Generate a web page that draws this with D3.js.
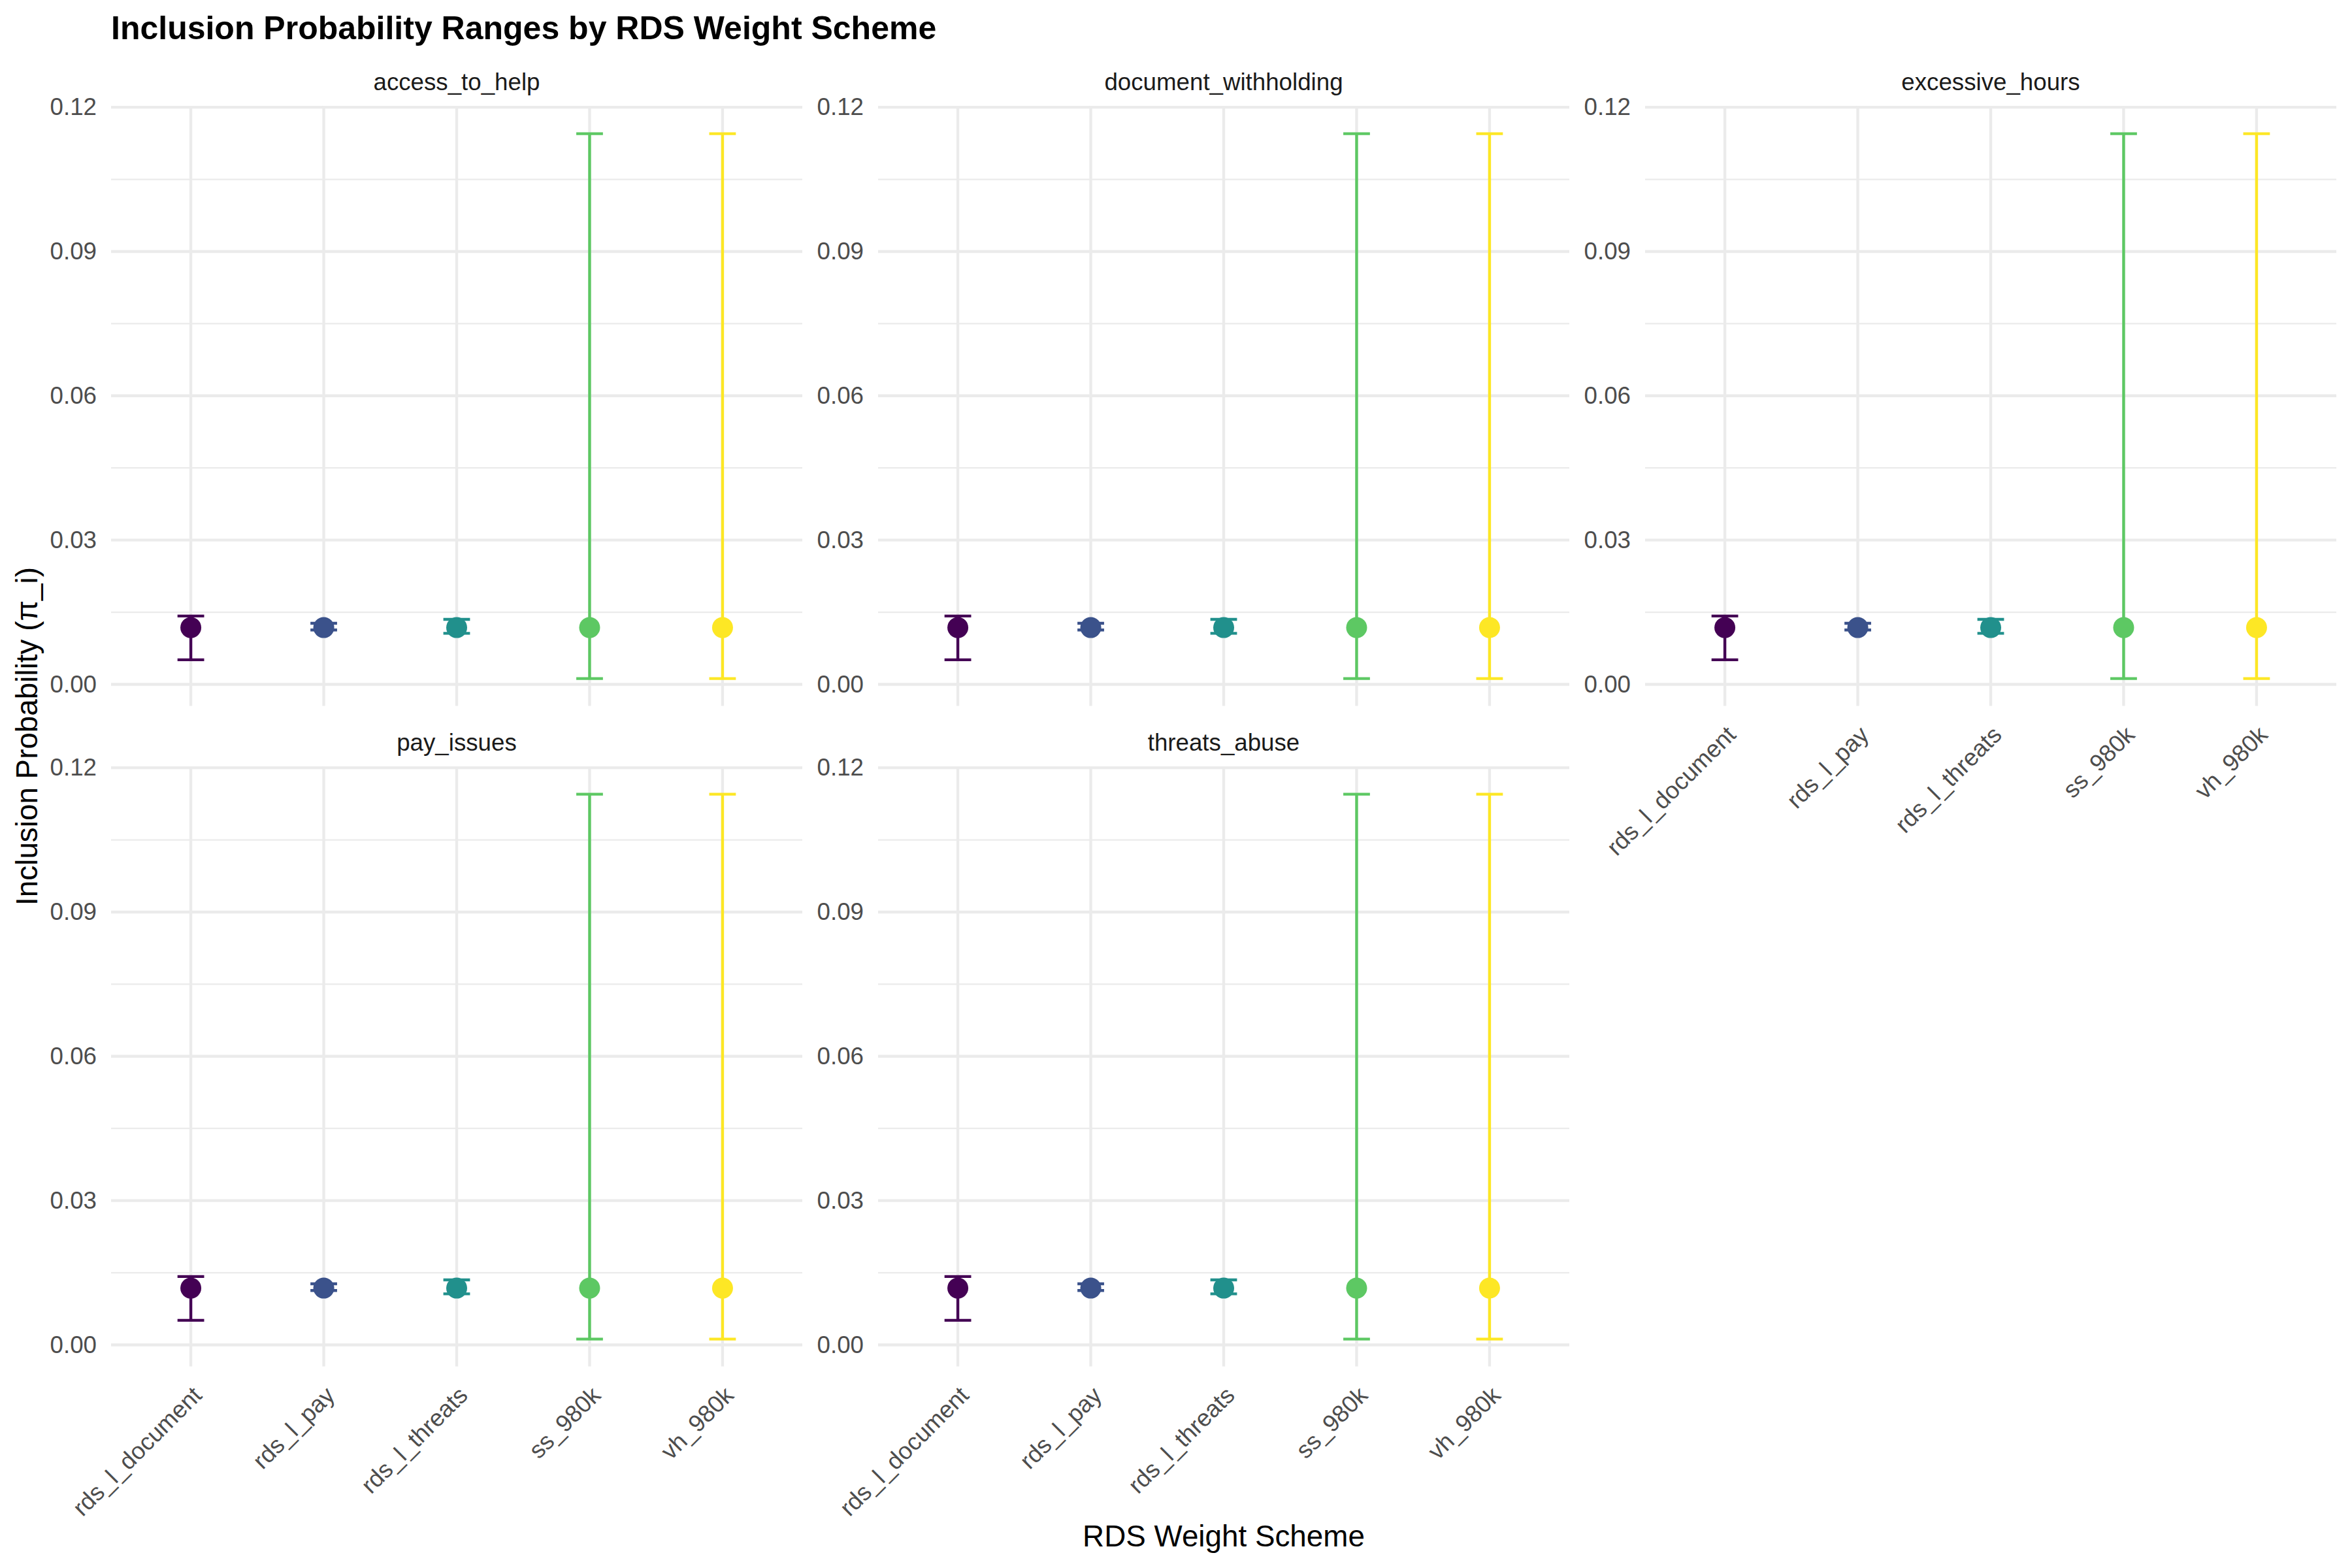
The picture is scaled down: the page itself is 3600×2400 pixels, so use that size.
<!DOCTYPE html>
<html>
<head>
<meta charset="utf-8">
<script src="https://cdn.jsdelivr.net/npm/d3@7"></script>
<style>
  html, body { margin: 0; padding: 0; background: #ffffff; }
  svg { display: block; }
  text { font-family: "Liberation Sans", Arial, Helvetica, sans-serif; }
</style>
</head>
<body>
<div id="chart"></div>
<script>
// ---------------- data ----------------
const facets = ["access_to_help", "document_withholding", "excessive_hours", "pay_issues", "threats_abuse"];
const schemes = ["rds_l_document", "rds_l_pay", "rds_l_threats", "ss_980k", "vh_980k"];
const schemeColors = ["#440154", "#3B528B", "#21908C", "#5DC863", "#FDE725"];
// inclusion probability per scheme (same in every facet)
const piMedian = [0.0118, 0.0118, 0.0118, 0.0118, 0.0118];
const piLower  = [0.0051, 0.0113, 0.0106, 0.0012, 0.0012];
const piUpper  = [0.0142, 0.0127, 0.0135, 0.1145, 0.1145];
const yTicks = [0, 0.03, 0.06, 0.09, 0.12];
const yMinorTicks = [0.015, 0.045, 0.075, 0.105];
const yDomain = [-0.00449, 0.12022];

const titleText = "Inclusion Probability Ranges by RDS Weight Scheme";
const xTitle = "RDS Weight Scheme";
const yTitle = "Inclusion Probability (\u03C0_i)";

// ---------------- layout ----------------
const W = 3600, H = 2400;
const panelW = 1058, panelH = 918;
const colLeft = [170, 1344, 2518];
const rowTop = [162.5, 1173.5];
const fsTick = 36.7, fsStrip = 36.7, fsAxisTitle = 45.8, fsTitle = 50;

const svg = d3.select("#chart").append("svg")
  .attr("width", W).attr("height", H)
  .attr("viewBox", `0 0 ${W} ${H}`);
svg.append("rect").attr("width", W).attr("height", H).attr("fill", "#ffffff");

const x = d3.scalePoint().domain(schemes).range([0, panelW]).padding(0.6);
const y = d3.scaleLinear().domain(yDomain).range([panelH, 0]);
const color = d3.scaleOrdinal().domain(schemes).range(schemeColors);

const rows = schemes.map((s, i) => ({ scheme: s, mid: piMedian[i], lo: piLower[i], hi: piUpper[i] }));

facets.forEach((f, fi) => {
  const col = fi % 3, row = Math.floor(fi / 3);
  const g = svg.append("g").attr("transform", `translate(${colLeft[col]},${rowTop[row]})`);

  // minor grid
  g.selectAll("line.minor").data(yMinorTicks).enter().append("line")
    .attr("x1", 0).attr("x2", panelW)
    .attr("y1", d => y(d)).attr("y2", d => y(d))
    .attr("stroke", "#EBEBEB").attr("stroke-width", 2.2);
  // major grid y
  g.selectAll("line.major").data(yTicks).enter().append("line")
    .attr("x1", 0).attr("x2", panelW)
    .attr("y1", d => y(d)).attr("y2", d => y(d))
    .attr("stroke", "#EBEBEB").attr("stroke-width", 4.4);
  // major grid x
  g.selectAll("line.vx").data(schemes).enter().append("line")
    .attr("x1", d => x(d)).attr("x2", d => x(d))
    .attr("y1", 0).attr("y2", panelH)
    .attr("stroke", "#EBEBEB").attr("stroke-width", 4.4);

  // y axis labels
  const yAxis = d3.axisLeft(y).tickValues(yTicks).tickFormat(d3.format(".2f"))
    .tickSize(0).tickPadding(22);
  const ya = g.append("g").call(yAxis);
  ya.select(".domain").remove();
  ya.selectAll("text").attr("fill", "#4D4D4D").attr("font-size", fsTick)
    .attr("font-family", "'Liberation Sans', Arial, sans-serif");

  // strip label
  g.append("text").attr("x", panelW / 2).attr("y", -24.5)
    .attr("text-anchor", "middle").attr("fill", "#1A1A1A")
    .attr("font-size", fsStrip).text(f);

  // error bars
  const eb = g.selectAll("g.eb").data(rows).enter().append("g")
    .attr("stroke", d => color(d.scheme)).attr("stroke-width", 4.4);
  eb.append("line").attr("x1", d => x(d.scheme)).attr("x2", d => x(d.scheme))
    .attr("y1", d => y(d.lo)).attr("y2", d => y(d.hi));
  eb.append("line").attr("x1", d => x(d.scheme) - 20.4).attr("x2", d => x(d.scheme) + 20.4)
    .attr("y1", d => y(d.lo)).attr("y2", d => y(d.lo));
  eb.append("line").attr("x1", d => x(d.scheme) - 20.4).attr("x2", d => x(d.scheme) + 20.4)
    .attr("y1", d => y(d.hi)).attr("y2", d => y(d.hi));

  // points
  g.selectAll("circle.pt").data(rows).enter().append("circle")
    .attr("cx", d => x(d.scheme)).attr("cy", d => y(d.mid)).attr("r", 16)
    .attr("fill", d => color(d.scheme));

  // x labels only on panels with no panel below
  const hasBelow = (fi + 3) < facets.length;
  if (!hasBelow) {
    const asc = 0.73 * fsTick;
    g.selectAll("text.xl").data(schemes).enter().append("text")
      .attr("transform", d => `translate(${x(d)},${panelH + 27.5}) rotate(-45)`)
      .attr("x", 0).attr("y", asc)
      .attr("text-anchor", "end").attr("fill", "#4D4D4D")
      .attr("font-size", fsTick).text(d => d);
  }
});

// title
svg.append("text").attr("x", 170).attr("y", 60)
  .attr("font-size", fsTitle).attr("font-weight", "bold").attr("fill", "#000000")
  .text(titleText);

// axis titles
svg.append("text").attr("x", (colLeft[0] + colLeft[2] + panelW) / 2).attr("y", 2367)
  .attr("text-anchor", "middle").attr("font-size", fsAxisTitle).attr("fill", "#000000")
  .text(xTitle);
svg.append("text")
  .attr("transform", `translate(57,${(rowTop[0] + rowTop[1] + panelH) / 2}) rotate(-90)`)
  .attr("text-anchor", "middle").attr("font-size", fsAxisTitle).attr("fill", "#000000")
  .text(yTitle);
</script>
</body>
</html>
